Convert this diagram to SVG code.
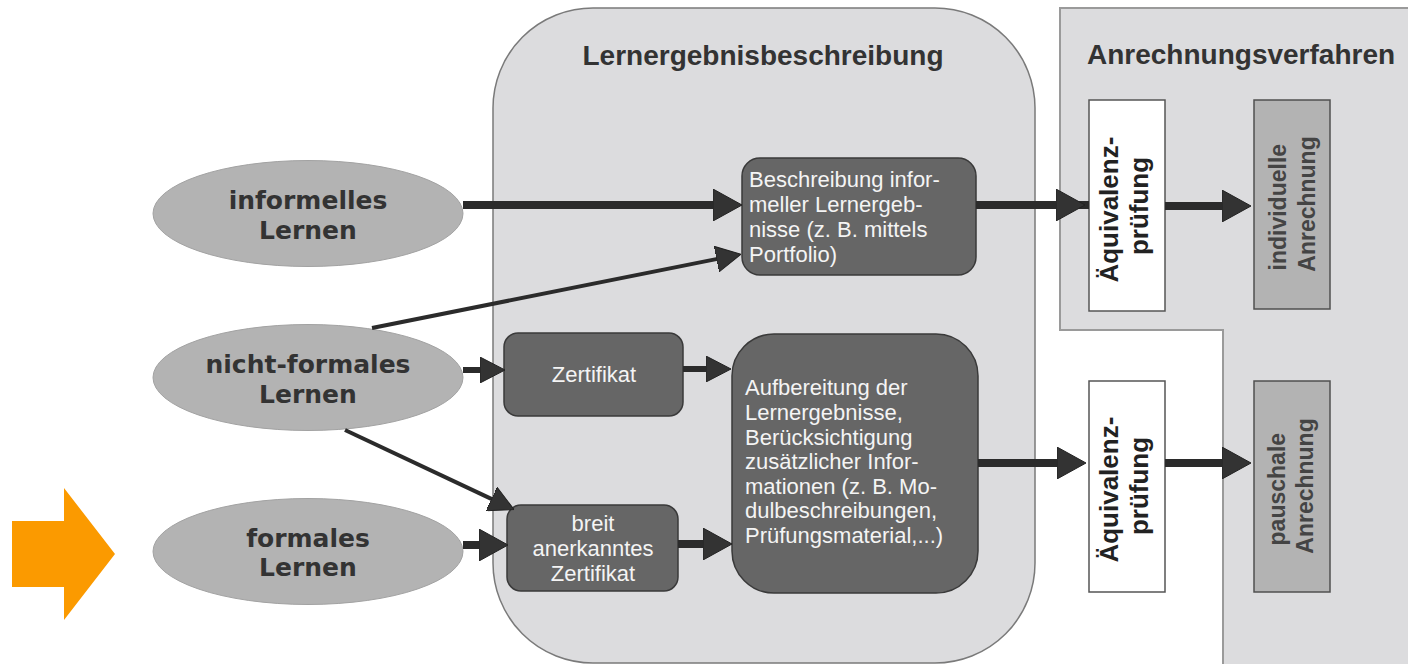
<svg xmlns="http://www.w3.org/2000/svg" width="1408" height="664" viewBox="0 0 1408 664">
  <style>
    .panel { fill: #dcdcde; stroke: #7a7a7a; stroke-width: 1.5; }
    .panel2 { fill: #dcdcde; stroke: #9a9a9a; stroke-width: 2; }
    .title { font-family: "Liberation Sans", Arial, sans-serif; font-weight: bold; font-size: 28px; fill: #333333; }
    .ell { fill: #b3b3b3; stroke: #a2a2a2; stroke-width: 1; }
    .elltxt { font-family: "DejaVu Sans", Verdana, sans-serif; font-weight: bold; font-size: 25px; fill: #333333; text-anchor: middle; }
    .box { fill: #666666; stroke: #3a3a3a; stroke-width: 1.5; }
    .boxtxt { font-family: "Liberation Sans", Arial, sans-serif; font-size: 22px; fill: #f4f4f4; }
    .mid { text-anchor: middle; }
    .wbox { fill: #ffffff; stroke: #555555; stroke-width: 1.5; }
    .gbox { fill: #b3b3b3; stroke: #505050; stroke-width: 1.5; }
    .vtxt { font-family: "Liberation Sans", Arial, sans-serif; font-weight: bold; font-size: 26px; fill: #222222; text-anchor: middle; }
    .vtxt2 { font-family: "Liberation Sans", Arial, sans-serif; font-weight: bold; font-size: 23px; fill: #444444; text-anchor: middle; }
    .thick { stroke: #2b2b2b; stroke-width: 8; fill: none; }
    .medium { stroke: #2b2b2b; stroke-width: 6; fill: none; }
    .thin { stroke: #2b2b2b; stroke-width: 4; fill: none; }
  </style>
  <defs>
    <marker id="headBig" viewBox="0 0 29 32" refX="1" refY="16" markerWidth="29" markerHeight="32" markerUnits="userSpaceOnUse" orient="auto">
      <path d="M0,0 L29,16 L0,32 Z" fill="#333333" stroke="#222222" stroke-width="1"/>
    </marker>
    <marker id="headMid" viewBox="0 0 25 26" refX="1" refY="13" markerWidth="25" markerHeight="26" markerUnits="userSpaceOnUse" orient="auto">
      <path d="M0,0 L25,13 L0,26 Z" fill="#333333" stroke="#222222" stroke-width="1"/>
    </marker>
  </defs>

  <g id="orange-arrow">
    <polygon points="12,521 64,521 64,488 115,554 64,620 64,587 12,587" fill="#fb9a00"/>
  </g>

  <g id="panel-lernergebnis">
    <rect class="panel" x="493" y="8" width="542" height="655" rx="100" ry="100"/>
    <text class="title" x="763" y="65" text-anchor="middle">Lernergebnisbeschreibung</text>
  </g>

  <g id="panel-anrechnung">
    <path class="panel2" d="M1060,8 H1412 V668 H1223 V330 H1060 Z"/>
    <text class="title" x="1087" y="64">Anrechnungsverfahren</text>
  </g>

  <g id="informelles">
    <ellipse class="ell" cx="308" cy="213.5" rx="155" ry="53"/>
    <text class="elltxt" x="308" y="209">informelles</text>
    <text class="elltxt" x="308" y="239">Lernen</text>
  </g>
  <g id="nichtformales">
    <ellipse class="ell" cx="308" cy="377.5" rx="155" ry="53"/>
    <text class="elltxt" x="308" y="373">nicht-formales</text>
    <text class="elltxt" x="308" y="403">Lernen</text>
  </g>
  <g id="formales">
    <ellipse class="ell" cx="308" cy="551.5" rx="155" ry="53"/>
    <text class="elltxt" x="308" y="547">formales</text>
    <text class="elltxt" x="308" y="576">Lernen</text>
  </g>

  <g id="beschreibung">
    <rect class="box" x="742" y="158" width="234" height="117" rx="18" ry="18"/>
    <text class="boxtxt" x="749" y="187">Beschreibung infor-</text>
    <text class="boxtxt" x="749" y="212">meller Lernergeb-</text>
    <text class="boxtxt" x="749" y="237">nisse (z. B. mittels</text>
    <text class="boxtxt" x="749" y="262">Portfolio)</text>
  </g>

  <g id="zertifikat">
    <rect class="box" x="504" y="333" width="179" height="83" rx="14" ry="14"/>
    <text class="boxtxt mid" x="594" y="382">Zertifikat</text>
  </g>

  <g id="breit">
    <rect class="box" x="507" y="505" width="171" height="86" rx="14" ry="14"/>
    <text class="boxtxt mid" x="593" y="531">breit</text>
    <text class="boxtxt mid" x="593" y="556">anerkanntes</text>
    <text class="boxtxt mid" x="593" y="581">Zertifikat</text>
  </g>

  <g id="aufbereitung">
    <rect class="box" x="732" y="334" width="246" height="259" rx="42" ry="42"/>
    <text class="boxtxt" x="745" y="395">Aufbereitung der</text>
    <text class="boxtxt" x="745" y="420">Lernergebnisse,</text>
    <text class="boxtxt" x="745" y="445">Berücksichtigung</text>
    <text class="boxtxt" x="745" y="469">zusätzlicher Infor-</text>
    <text class="boxtxt" x="745" y="494">mationen (z. B. Mo-</text>
    <text class="boxtxt" x="745" y="518">dulbeschreibungen,</text>
    <text class="boxtxt" x="745" y="543">Prüfungsmaterial,...)</text>
  </g>

  <g id="aequivalenz1">
    <rect class="wbox" x="1089" y="100" width="76" height="211"/>
    <text class="vtxt" transform="translate(1127,206) rotate(-90)">
      <tspan x="0" y="-9">Äquivalenz-</tspan>
      <tspan x="0" y="21">prüfung</tspan>
    </text>
  </g>
  <g id="individuelle">
    <rect class="gbox" x="1254" y="100" width="76" height="209"/>
    <text class="vtxt2" transform="translate(1292,204) rotate(-90)">
      <tspan x="0" y="-6">individuelle</tspan>
      <tspan x="0" y="23">Anrechnung</tspan>
    </text>
  </g>
  <g id="aequivalenz2">
    <rect class="wbox" x="1089" y="381" width="76" height="211"/>
    <text class="vtxt" transform="translate(1127,486) rotate(-90)">
      <tspan x="0" y="-9">Äquivalenz-</tspan>
      <tspan x="0" y="21">prüfung</tspan>
    </text>
  </g>
  <g id="pauschale">
    <rect class="gbox" x="1254" y="381" width="76" height="211"/>
    <text class="vtxt2" transform="translate(1292,486) rotate(-90)">
      <tspan x="0" y="-7">pauschale</tspan>
      <tspan x="0" y="21">Anrechnung</tspan>
    </text>
  </g>

  <g id="connectors">
    <path class="thick" d="M463,205 H714" marker-end="url(#headBig)"/>
    <path class="thin" d="M372,328 L717.5,258.9" marker-end="url(#headMid)"/>
    <path class="medium" d="M463,370 H481" marker-end="url(#headMid)"/>
    <path class="thin" d="M345,430 L492.4,499.4" marker-end="url(#headMid)"/>
    <path class="thick" d="M463,545 H480" marker-end="url(#headBig)"/>
    <path class="medium" d="M683,369 H707" marker-end="url(#headMid)"/>
    <path class="thick" d="M678,544 H704" marker-end="url(#headBig)"/>
    <path class="thick" d="M976,205 H1057 H1089" marker-mid="url(#headBig)"/>
    <path class="thick" d="M978,463 H1058" marker-end="url(#headBig)"/>
    <path class="thick" d="M1165,206 H1223" marker-end="url(#headBig)"/>
    <path class="thick" d="M1165,463 H1223" marker-end="url(#headBig)"/>
  </g>
</svg>
